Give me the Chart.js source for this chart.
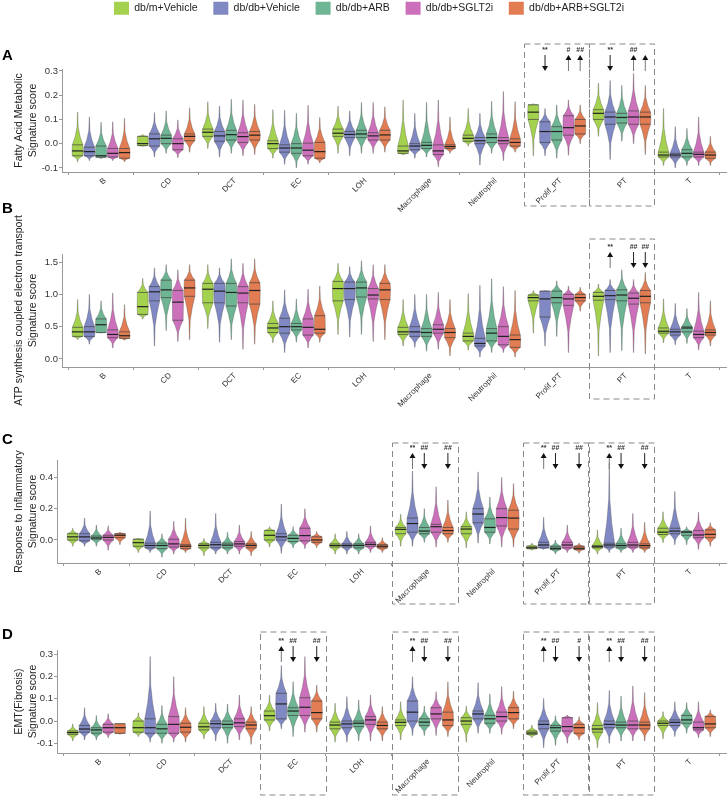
<!DOCTYPE html>
<html>
<head>
<meta charset="utf-8">
<script src="https://cdn.jsdelivr.net/npm/chart.js@4.4.1/dist/chart.umd.min.js"></script>
<style>
  html, body { margin: 0; padding: 0; background: #fff; }
  #wrap { position: relative; width: 728px; height: 797px; overflow: hidden; }
  #wrap canvas { position: absolute; left: 0; }
</style>
</head>
<body>
<div id="wrap">
  <canvas id="panelA" width="728" height="227" style="top:-14px"></canvas>
  <canvas id="panelB" width="728" height="214" style="top:196px"></canvas>
  <canvas id="panelC" width="728" height="205" style="top:405px"></canvas>
  <canvas id="panelD" width="728" height="197" style="top:600px"></canvas>
</div>
<script>
const categories = ["B", "CD", "DCT", "EC", "LOH", "Macrophage", "Neutrophil", "Prolif_PT", "PT", "T"];
const groups = ["db/m+Vehicle", "db/db+Vehicle", "db/db+ARB", "db/db+SGLT2i", "db/db+ARB+SGLT2i"];
const colors = ["#a5d24e", "#8189c4", "#6db593", "#cd70bb", "#e27c52"];

// each entry: [min, q1, median, q3, max], one per category

// A - Fatty Acid Metabolic
const faoDbm   = [[-0.075,-0.05,-0.03,-0.005,0.13],[-0.012,-0.008,0.0,0.03,0.038],[-0.02,0.03,0.047,0.06,0.173],[-0.06,-0.02,0.0,0.012,0.14],[-0.04,0.03,0.043,0.06,0.155],[-0.047,-0.04,-0.03,-0.01,0.18],[-0.01,0.01,0.022,0.035,0.145],[-0.05,0.1,0.13,0.16,0.165],[0.03,0.1,0.125,0.14,0.25],[-0.09,-0.055,-0.047,-0.035,0.145]];
const faoDbdb  = [[-0.07,-0.05,-0.033,-0.015,0.11],[-0.055,-0.01,0.02,0.04,0.128],[-0.055,0.01,0.032,0.05,0.155],[-0.085,-0.035,-0.018,-0.005,0.138],[-0.05,0.025,0.038,0.05,0.135],[-0.06,-0.025,-0.01,0.0,0.125],[-0.088,0.0,0.012,0.025,0.125],[-0.05,0.005,0.05,0.09,0.145],[-0.065,0.08,0.11,0.13,0.26],[-0.1,-0.055,-0.047,-0.04,0.07]];
const faoArb   = [[-0.062,-0.056,-0.05,-0.01,0.088],[-0.04,0.0,0.022,0.035,0.135],[-0.04,0.015,0.037,0.055,0.183],[-0.1,-0.04,-0.018,0.0,0.125],[-0.04,0.025,0.04,0.055,0.17],[-0.055,-0.02,-0.007,0.005,0.17],[-0.04,0.005,0.025,0.04,0.175],[-0.06,0.015,0.05,0.07,0.16],[0.01,0.085,0.108,0.125,0.24],[-0.09,-0.055,-0.04,-0.025,0.063]];
const faoSglt  = [[-0.07,-0.055,-0.04,-0.02,0.09],[-0.058,-0.025,0.0,0.02,0.098],[-0.05,0.005,0.029,0.045,0.18],[-0.085,-0.05,-0.027,0.002,0.158],[-0.04,0.015,0.032,0.045,0.17],[-0.095,-0.045,-0.03,-0.005,0.18],[-0.07,0.0,0.012,0.025,0.215],[-0.048,0.035,0.066,0.115,0.18],[0.0,0.08,0.11,0.135,0.29],[-0.09,-0.055,-0.044,-0.035,0.11]];
const faoCombo = [[-0.075,-0.06,-0.037,-0.02,0.105],[-0.035,0.012,0.03,0.04,0.148],[-0.045,0.015,0.035,0.05,0.162],[-0.08,-0.06,-0.033,0.005,0.108],[-0.035,0.015,0.036,0.055,0.152],[-0.04,-0.02,-0.012,-0.005,0.11],[-0.035,-0.01,0.005,0.02,0.173],[0.0,0.04,0.073,0.1,0.16],[-0.045,0.08,0.11,0.13,0.24],[-0.09,-0.06,-0.047,-0.035,0.03]];

// B - ATP synthesis coupled electron transport
const atpDbm   = [[0.3,0.35,0.42,0.49,0.92],[0.62,0.69,0.81,1.03,1.25],[0.47,0.87,1.08,1.17,1.46],[0.25,0.41,0.48,0.55,0.9],[0.38,0.9,1.09,1.2,1.48],[0.2,0.38,0.42,0.49,0.92],[0.14,0.28,0.35,0.4,1.01],[0.4,0.9,0.95,0.99,1.06],[0.05,0.91,0.97,1.03,1.16],[0.25,0.4,0.43,0.48,0.93]];
const atpDbdb  = [[0.23,0.35,0.42,0.5,1.0],[0.2,0.9,1.04,1.12,1.41],[0.26,0.87,1.05,1.17,1.41],[0.1,0.4,0.5,0.63,1.07],[0.34,0.92,1.09,1.19,1.43],[0.18,0.35,0.42,0.5,1.0],[0.03,0.2,0.24,0.32,1.14],[0.2,0.65,0.93,1.05,1.06],[0.1,0.92,0.98,1.06,1.23],[0.22,0.37,0.42,0.46,0.86]];
const atpArb   = [[0.4,0.41,0.53,0.62,0.9],[0.44,0.95,1.07,1.22,1.46],[0.3,0.82,1.03,1.17,1.55],[0.26,0.45,0.5,0.55,0.93],[0.38,0.96,1.1,1.19,1.52],[0.12,0.35,0.41,0.47,1.0],[0.1,0.28,0.4,0.47,1.24],[0.35,0.87,0.95,1.05,1.21],[0.13,0.9,0.99,1.07,1.38],[0.24,0.42,0.48,0.5,0.78]];
const atpSglt  = [[0.17,0.33,0.38,0.45,1.02],[0.27,0.6,0.88,1.06,1.38],[0.15,0.87,1.02,1.12,1.48],[0.17,0.37,0.49,0.62,1.08],[0.27,0.93,0.99,1.09,1.46],[0.15,0.4,0.46,0.53,1.03],[0.1,0.22,0.35,0.5,1.12],[0.1,0.83,0.93,1.0,1.13],[0.1,0.85,0.94,1.02,1.23],[0.14,0.33,0.38,0.43,1.03]];
const atpCombo = [[0.29,0.32,0.36,0.42,0.84],[0.3,0.97,1.1,1.22,1.46],[0.23,0.85,1.06,1.18,1.55],[0.26,0.4,0.46,0.67,1.13],[0.3,0.92,1.07,1.17,1.46],[0.05,0.33,0.41,0.47,0.92],[0.03,0.18,0.3,0.37,1.06],[0.74,0.9,0.95,1.0,1.11],[0.08,0.87,0.97,1.06,1.34],[0.2,0.37,0.41,0.45,0.9]];

// C - Response to Inflammatory
const infDbm   = [[-0.04,0.0,0.02,0.04,0.075],[-0.08,-0.04,-0.017,0.005,0.012],[-0.1,-0.05,-0.035,-0.025,0.01],[-0.045,0.0,0.03,0.06,0.085],[-0.09,-0.045,-0.035,-0.025,0.04],[-0.04,0.04,0.068,0.08,0.165],[-0.05,0.04,0.07,0.085,0.18],[-0.065,-0.055,-0.05,-0.04,-0.02],[-0.09,-0.05,-0.043,-0.035,0.064],[-0.017,0.035,0.05,0.075,0.18]];
const infDbdb  = [[-0.04,-0.005,0.02,0.04,0.14],[-0.08,-0.05,-0.035,-0.02,0.185],[-0.09,-0.05,-0.03,-0.015,0.17],[-0.085,0.0,0.02,0.04,0.23],[-0.09,-0.045,-0.035,-0.025,0.055],[-0.04,0.05,0.105,0.14,0.44],[-0.02,0.11,0.166,0.2,0.435],[-0.06,-0.05,-0.032,-0.015,0.145],[-0.08,-0.045,-0.032,-0.02,0.49],[-0.03,0.04,0.057,0.075,0.31]];
const infArb   = [[-0.04,0.005,0.013,0.025,0.095],[-0.11,-0.055,-0.035,-0.02,0.04],[-0.09,-0.05,-0.033,-0.02,0.05],[-0.05,-0.01,0.01,0.03,0.085],[-0.09,-0.05,-0.035,-0.025,0.04],[-0.015,0.04,0.057,0.08,0.2],[-0.025,0.05,0.08,0.135,0.275],[-0.09,-0.06,-0.053,-0.04,0.0],[-0.08,-0.05,-0.036,-0.025,0.075],[-0.03,0.03,0.05,0.055,0.085]];
const infSglt  = [[-0.065,0.0,0.017,0.03,0.09],[-0.09,-0.045,-0.025,0.005,0.12],[-0.09,-0.04,-0.025,-0.01,0.095],[-0.055,-0.005,0.028,0.075,0.2],[-0.08,-0.04,-0.028,-0.015,0.09],[-0.045,0.05,0.085,0.1,0.34],[-0.045,0.09,0.143,0.2,0.4],[-0.08,-0.05,-0.032,-0.015,0.095],[-0.08,-0.045,-0.032,-0.015,0.17],[-0.06,0.015,0.032,0.06,0.177]];
const infCombo = [[-0.03,0.015,0.03,0.04,0.05],[-0.08,-0.055,-0.04,-0.03,0.14],[-0.1,-0.05,-0.035,-0.025,0.055],[-0.05,-0.015,0.0,0.02,0.055],[-0.08,-0.05,-0.04,-0.03,0.015],[-0.015,0.04,0.06,0.08,0.255],[-0.045,0.07,0.14,0.19,0.36],[-0.085,-0.06,-0.053,-0.04,-0.02],[-0.08,-0.05,-0.036,-0.025,0.113],[-0.04,0.015,0.036,0.065,0.11]];

// D - EMT(Fibrosis)
const emtDbm   = [[-0.09,-0.06,-0.052,-0.045,-0.013],[-0.07,-0.05,-0.03,0.0,0.037],[-0.08,-0.04,-0.026,-0.01,0.065],[-0.045,0.005,0.024,0.045,0.117],[-0.095,-0.035,-0.018,-0.005,0.08],[-0.085,-0.02,-0.006,0.005,0.087],[-0.095,-0.015,0.0,0.015,0.068],[-0.075,-0.06,-0.054,-0.045,-0.018],[-0.12,-0.05,-0.036,-0.02,0.083],[-0.08,-0.02,-0.01,0.0,0.042]];
const emtDbdb  = [[-0.085,-0.05,-0.036,-0.02,0.06],[-0.095,-0.055,-0.03,0.01,0.29],[-0.09,-0.03,-0.012,0.0,0.08],[-0.035,0.01,0.077,0.125,0.25],[-0.095,-0.03,-0.013,0.0,0.11],[-0.065,0.0,0.04,0.09,0.2],[-0.055,0.01,0.032,0.045,0.173],[-0.12,-0.035,-0.015,0.0,0.102],[-0.1,-0.03,-0.015,0.0,0.137],[-0.07,-0.02,-0.006,0.005,0.087]];
const emtArb   = [[-0.085,-0.055,-0.04,-0.03,0.025],[-0.1,-0.055,-0.035,-0.015,0.07],[-0.1,-0.03,-0.015,0.0,0.077],[-0.07,0.025,0.045,0.06,0.177],[-0.09,-0.025,-0.01,0.0,0.095],[-0.065,-0.02,-0.005,0.01,0.068],[-0.055,-0.01,0.01,0.025,0.122],[-0.11,-0.045,-0.03,-0.02,0.024],[-0.09,-0.03,-0.018,-0.005,0.113],[-0.055,-0.01,0.005,0.025,0.083]];
const emtSglt  = [[-0.075,-0.05,-0.03,-0.015,0.033],[-0.095,-0.055,-0.015,0.02,0.2],[-0.085,-0.025,-0.008,0.01,0.117],[-0.05,0.025,0.062,0.105,0.29],[-0.09,-0.015,0.005,0.02,0.117],[-0.065,0.01,0.032,0.06,0.132],[-0.06,0.0,0.02,0.04,0.155],[-0.1,-0.045,-0.025,0.015,0.027],[-0.09,-0.035,-0.018,0.0,0.158],[-0.075,-0.04,-0.03,-0.005,0.087]];
const emtCombo = [[-0.06,-0.055,-0.03,-0.012,-0.012],[-0.095,-0.05,-0.028,-0.01,0.06],[-0.105,-0.035,-0.018,-0.005,0.065],[-0.05,0.01,0.038,0.09,0.162],[-0.09,-0.035,-0.02,-0.005,0.065],[-0.07,-0.02,0.005,0.04,0.177],[-0.035,0.01,0.038,0.06,0.135],[-0.085,-0.055,-0.03,-0.015,0.02],[-0.09,-0.035,-0.018,-0.005,0.128],[-0.07,-0.03,-0.013,0.02,0.05]];

// axis ticks
const ticksA = [-0.1, 0.0, 0.1, 0.2, 0.3];
const ticksB = [0.0, 0.5, 1.0, 1.5];
const ticksC = [0.0, 0.2, 0.4];
const ticksD = [-0.1, 0.0, 0.1, 0.2, 0.3];

// significance marks: [category, group index, direction, label]
const marksA = [["Prolif_PT",1,"down","**"],["Prolif_PT",3,"up","#"],["Prolif_PT",4,"up","##"],["PT",1,"down","**"],["PT",3,"up","##"],["PT",4,"up",""]];
const marksB = [["PT",1,"up","**"],["PT",3,"down","##"],["PT",4,"down","##"]];
const marksC = [["Macrophage",1,"up","**"],["Macrophage",2,"down","##"],["Macrophage",4,"down","##"],["Prolif_PT",1,"up","**"],["Prolif_PT",2,"down","##"],["Prolif_PT",4,"down","##"],["PT",1,"up","**"],["PT",2,"down","##"],["PT",4,"down","##"]];
const marksD = [["EC",1,"up","**"],["EC",2,"down","##"],["EC",4,"down","##"],["Macrophage",1,"up","**"],["Macrophage",2,"down","##"],["Macrophage",4,"down","##"],["Prolif_PT",1,"up","**"],["Prolif_PT",2,"down","##"],["Prolif_PT",4,"down","#"],["PT",1,"up","**"],["PT",2,"down","##"],["PT",4,"down","##"]];

const FONT = "'Liberation Sans', Arial, Helvetica, sans-serif";

// violin outline, built from the five quantiles
function violinShape([mn, q1, md, q3, mx]) {
  const lo = q1 - mn, hi = mx - q3;
  return [
    [mn, 0.03], [q1 - 0.55 * lo, 0.12], [q1 - 0.25 * lo, 0.5], [q1, 0.95],
    [md, 1], [q3, 0.95], [q3 + 0.25 * hi, 0.45], [q3 + 0.55 * hi, 0.1], [mx, 0.02]
  ];
}

// VIOLINS (drawn in place of the floating bars)
const violinPlugin = {
  id: "violins",
  beforeDatasetDraw(chart, args) {
    const ds = chart.data.datasets[args.index];
    const y = chart.scales.y;
    const ctx = chart.ctx;
    ctx.save();
    args.meta.data.forEach((bar, j) => {
      const s = ds.stats[j];
      const half = bar.width / 2;
      const pts = violinShape(s);
      ctx.beginPath();
      pts.forEach(([v, f], k) => {
        const px = bar.x - f * half, py = y.getPixelForValue(v);
        k ? ctx.lineTo(px, py) : ctx.moveTo(px, py);
      });
      for (let k = pts.length - 1; k >= 0; k--) {
        ctx.lineTo(bar.x + pts[k][1] * half, y.getPixelForValue(pts[k][0]));
      }
      ctx.closePath();
      ctx.fillStyle = ds.backgroundColor;
      ctx.fill();
      ctx.strokeStyle = "rgba(70,70,70,0.55)";
      ctx.lineWidth = 0.6;
      ctx.stroke();
      // quartile + median lines
      [[3, 0.95, 0.7, "#444"], [2, 1, 1.2, "#222"], [1, 0.95, 0.7, "#444"]].forEach(([qi, f, lw, c]) => {
        const py = y.getPixelForValue(s[qi]);
        ctx.beginPath();
        ctx.moveTo(bar.x - f * half, py);
        ctx.lineTo(bar.x + f * half, py);
        ctx.strokeStyle = c;
        ctx.lineWidth = lw;
        ctx.stroke();
      });
    });
    ctx.restore();
    return false;
  }
};

// DASHED BOXES, ARROWS, PANEL LETTER
const decorPlugin = {
  id: "decor",
  afterDraw(chart, args, o) {
    const ctx = chart.ctx, x = chart.scales.x, area = chart.chartArea;
    const unit = x.getPixelForValue(1) - x.getPixelForValue(0);
    ctx.save();
    ctx.setLineDash([6, 4]);
    ctx.strokeStyle = "#888";
    ctx.lineWidth = 1;
    o.boxes.forEach(c => {
      const cx = x.getPixelForValue(categories.indexOf(c));
      const top = area.top + o.boxTop;
      ctx.strokeRect(Math.round(cx - unit / 2) + 0.5, top, Math.round(unit), area.bottom + o.boxBottom - top);
    });
    ctx.setLineDash([]);
    o.marks.forEach(([c, g, dir, label]) => {
      const px = chart.getDatasetMeta(g).data[categories.indexOf(c)].x;
      const y0 = area.top + o.arrowTop, y1 = y0 + 16;
      ctx.strokeStyle = dir === "up" ? "#777" : "#222";
      ctx.lineWidth = 1;
      ctx.beginPath();
      ctx.moveTo(px, dir === "up" ? y0 + 4 : y0);
      ctx.lineTo(px, dir === "up" ? y1 : y1 - 4);
      ctx.stroke();
      ctx.fillStyle = "#111";
      ctx.beginPath();
      if (dir === "up") {
        ctx.moveTo(px, y0); ctx.lineTo(px - 3, y0 + 5); ctx.lineTo(px + 3, y0 + 5);
      } else {
        ctx.moveTo(px, y1); ctx.lineTo(px - 3, y1 - 5); ctx.lineTo(px + 3, y1 - 5);
      }
      ctx.closePath();
      ctx.fill();
      if (label) {
        ctx.font = `bold 7px ${FONT}`;
        ctx.textAlign = "center";
        ctx.textBaseline = "bottom";
        ctx.fillStyle = "#333";
        ctx.fillText(label, px, y0 - 1);
      }
    });
    ctx.font = `bold 15px ${FONT}`;
    ctx.textAlign = "left";
    ctx.textBaseline = "middle";
    ctx.fillStyle = "#000";
    ctx.fillText(o.tag, 2, o.tagY);
    ctx.restore();
  }
};

// BUILD ONE PANEL
function makePanel(id, p) {
  const scales = {
    x: {
      afterBuildTicks: s => { s._startValue = -0.6; s._valueRange = categories.length + 0.2; },
      afterFit: s => { s.height = p.xHeight; },
      ticks: { minRotation: 45, maxRotation: 45, autoSkip: false, padding: 1, labelOffset: 4, color: "#333", font: { size: 8, family: FONT } },
      grid: { display: true, drawOnChartArea: false, tickLength: 3, color: "#999" },
      border: { color: "#999", width: 1 }
    },
    y: {
      min: p.min,
      max: p.max,
      afterBuildTicks: s => { s.ticks = p.ticks.map(v => ({ value: v })); },
      afterFit: s => { s.width = p.yWidth; },
      ticks: { callback: v => v.toFixed(1), padding: 1, color: "#333", font: { size: 9.5, family: FONT } },
      grid: { display: true, drawOnChartArea: false, tickLength: 3, color: "#999" },
      border: { color: "#999", width: 1 },
      title: { display: true, text: p.title, color: "#222", padding: 0, font: { size: 10.5, family: FONT, lineHeight: 1.33 } }
    }
  };
  if (p.spacer) {
    scales.sp = {
      type: "category", position: "top", display: true,
      grid: { display: false }, border: { display: false }, ticks: { display: false },
      afterFit: s => { s.height = p.spacer; }
    };
  }

  return new Chart(document.getElementById(id), {
    type: "bar",
    data: {
      labels: categories,
      datasets: groups.map((g, i) => ({
        label: g,
        data: p.data[i].map(s => [s[0], s[4]]),
        stats: p.data[i],
        backgroundColor: colors[i],
        borderWidth: 0,
        categoryPercentage: 0.9,
        barPercentage: 0.95
      }))
    },
    options: {
      responsive: false,
      animation: false,
      events: [],
      layout: { padding: { left: 12, right: 2, top: p.padTop, bottom: 0 } },
      scales,
      plugins: {
        legend: {
          display: !!p.legend,
          position: "top",
          labels: { boxWidth: 15, boxHeight: 13, padding: 15.75, color: "#222", font: { size: 10.5, family: FONT } }
        },
        tooltip: { enabled: false },
        decor: { boxes: p.boxes, boxTop: p.boxTop, boxBottom: p.boxBottom, marks: p.marks, arrowTop: p.arrowTop, tag: p.tag, tagY: p.tagY }
      }
    },
    plugins: [violinPlugin, decorPlugin]
  });
}

// RUN
makePanel("panelA", {
  data: [faoDbm, faoDbdb, faoArb, faoSglt, faoCombo], min: -0.117, max: 0.308, ticks: ticksA,
  title: ["Fatty Acid Metabolic", "Signature score"], legend: true, spacer: 44.25, padTop: 0,
  xHeight: 41, yWidth: 50, boxes: ["Prolif_PT", "PT"], boxTop: -25, boxBottom: 34,
  marks: marksA, arrowTop: -14, tag: "A", tagY: 70
});
makePanel("panelB", {
  data: [atpDbm, atpDbdb, atpArb, atpSglt, atpCombo], min: -0.124, max: 1.625, ticks: ticksB,
  title: ["ATP synthesis coupled electron transport", "Signature score"], padTop: 58,
  xHeight: 43, yWidth: 50, boxes: ["PT"], boxTop: -15, boxBottom: 32,
  marks: marksB, arrowTop: -2, tag: "B", tagY: 13
});
makePanel("panelC", {
  data: [infDbm, infDbdb, infArb, infSglt, infCombo], min: -0.147, max: 0.511, ticks: ticksC,
  title: ["Response to Inflammatory", "Signature score"], padTop: 55,
  xHeight: 47, yWidth: 45, boxes: ["Macrophage", "Prolif_PT", "PT"], boxTop: -17, boxBottom: 41,
  marks: marksC, arrowTop: -7, tag: "C", tagY: 35
});
makePanel("panelD", {
  data: [emtDbm, emtDbdb, emtArb, emtSglt, emtCombo], min: -0.144, max: 0.32, ticks: ticksD,
  title: ["EMT(Fibrosis)", "Signature score"], padTop: 50,
  xHeight: 44, yWidth: 45, boxes: ["EC", "Macrophage", "Prolif_PT", "PT"], boxTop: -18, boxBottom: 42,
  marks: marksD, arrowTop: -4, tag: "D", tagY: 35
});
</script>
</body>
</html>
